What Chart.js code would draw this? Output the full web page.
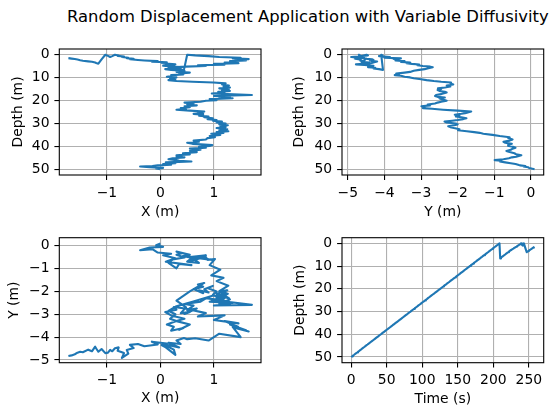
<!DOCTYPE html>
<html>
<head>
<meta charset="utf-8">
<script src="https://cdn.jsdelivr.net/npm/chart.js@4.4.1/dist/chart.umd.min.js"></script>
<style>
  body { margin: 0; background: #fff; }
  #wrap { position: relative; width: 552px; height: 414px; font-family: "DejaVu Sans", sans-serif; }
  #title { position: absolute; left: 67px; top: 7px; font-size: 16.4px; line-height: 19px; white-space: nowrap; color: #000; }
  .box { position: absolute; }
</style>
</head>
<body>
<div id="wrap">
  <div id="title">Random Displacement Application with Variable Diffusivity</div>
  <div class="box" style="left:0;top:30px"><canvas id="c1" width="276" height="192"></canvas></div>
  <div class="box" style="left:276px;top:30px"><canvas id="c2" width="276" height="192"></canvas></div>
  <div class="box" style="left:0;top:222px"><canvas id="c3" width="276" height="192"></canvas></div>
  <div class="box" style="left:276px;top:222px"><canvas id="c4" width="276" height="192"></canvas></div>
</div>
<script>
// particle track (time s, depth m, x m, y m)
const time = [0, 1.3, 2.5, 3.8, 5.0, 5.8, 7.1, 8.3, 9.6, 10.9, 12.5, 14.2, 15.4, 16.7, 18.4, 20.0, 21.7, 23.0, 24.2, 25.5,
  27.1, 29.2, 31.3, 33.4, 35.5, 37.6, 39.2, 40.9, 42.6, 44.2, 46.3, 48.4, 50.1, 52.2, 54.3, 56.8, 58.4, 60.5, 62.6, 64.7,
  66.4, 67.6, 69.3, 71.0, 73.0, 75.1, 76.8, 78.5, 80.1, 81.8, 83.5, 85.1, 86.8, 88.5, 89.7, 91.4, 93.1, 94.7, 96.0, 97.7,
  99.3, 101.0, 102.3, 103.9, 105.2, 106.9, 108.5, 110.2, 111.4, 113.1, 114.8, 116.5, 118.1, 119.8, 121.5, 123.1, 124.8, 126.1, 127.7, 129.4,
  130.6, 131.9, 133.6, 135.2, 136.9, 138.2, 139.8, 141.1, 142.8, 144.4, 146.1, 147.3, 149.0, 150.7, 152.8, 154.4, 156.5, 158.2, 159.4, 160.7,
  162.4, 164.1, 165.7, 167.4, 168.6, 170.3, 171.6, 172.8, 174.5, 176.2, 177.4, 179.5, 181.2, 182.4, 184.1, 185.7, 187.0, 188.3, 189.5, 190.8,
  192.0, 193.3, 194.5, 195.8, 197.0, 198.2, 199.5, 200.8, 202.0, 203.3, 204.5, 206.2, 207.4, 208.7,
  209.7, 210.8, 212.0, 213.2, 214.5, 215.7, 217.0, 218.2, 219.5, 220.7, 222.0, 223.2, 224.5, 225.7, 227.0, 228.2, 229.5, 230.7, 232.0, 233.2,
  234.5, 235.7, 237.0, 238.0, 239.0, 240.2, 241.4, 242.2, 243.0, 245.0, 247.0, 248.0, 249.0, 250.2, 251.5, 252.7, 254.0, 255.0, 256.0, 257.0, 258.0];
const depth = [50.0, 49.7, 49.4, 49.1, 48.8, 48.6, 48.3, 48.0, 47.7, 47.4, 47.0, 46.6, 46.3, 46.0, 45.6, 45.2, 44.8, 44.5, 44.2, 43.9,
  43.5, 43.0, 42.5, 42.0, 41.5, 41.0, 40.6, 40.2, 39.8, 39.4, 38.9, 38.4, 38.0, 37.5, 37.0, 36.4, 36.0, 35.5, 35.0, 34.5,
  34.1, 33.8, 33.4, 33.0, 32.5, 32.0, 31.6, 31.2, 30.8, 30.4, 30.0, 29.6, 29.2, 28.8, 28.5, 28.1, 27.7, 27.3, 27.0, 26.6,
  26.2, 25.8, 25.5, 25.1, 24.8, 24.4, 24.0, 23.6, 23.3, 22.9, 22.5, 22.1, 21.7, 21.3, 20.9, 20.5, 20.1, 19.8, 19.4, 19.0,
  18.7, 18.4, 18.0, 17.6, 17.2, 16.9, 16.5, 16.2, 15.8, 15.4, 15.0, 14.7, 14.3, 13.9, 13.4, 13.0, 12.5, 12.1, 11.8, 11.5,
  11.1, 10.7, 10.3, 9.9, 9.6, 9.2, 8.9, 8.6, 8.2, 7.8, 7.5, 7.0, 6.6, 6.3, 5.9, 5.5, 5.2, 4.9, 4.6, 4.3,
  4.0, 3.7, 3.4, 3.1, 2.8, 2.5, 2.2, 1.9, 1.6, 1.3, 1.0, 0.6, 0.3, 0.0,
  6.6, 6.3, 6.0, 5.7, 5.4, 5.1, 4.8, 4.5, 4.2, 3.9, 3.6, 3.3, 3.0, 2.8, 2.5, 2.3, 2.0, 1.8, 1.5, 1.3,
  1.0, 0.8, 0.5, 0.3, 0.0, 0.6, 1.0, 0.5, 0.0, 2.0, 3.9, 3.6, 3.4, 3.1, 2.9, 2.6, 2.4, 2.1, 1.9, 1.7, 1.5];
const xPos = [0.00, -0.08, 0.05, -0.20, -0.38, -0.15, -0.05, 0.20, 0.05, 0.28, 0.10, 0.58, 0.35, 0.30, 0.15, 0.23, 0.45, 0.30, 0.40, 0.30,
  0.55, 0.42, 0.68, 0.55, 0.75, 0.55, 0.85, 0.72, 0.92, 0.97, 0.60, 0.50, 0.72, 0.62, 0.85, 0.88, 1.02, 0.92, 1.12, 0.95,
  1.18, 1.05, 1.27, 1.10, 1.25, 1.05, 1.22, 1.12, 1.26, 1.10, 1.22, 1.05, 1.15, 0.98, 1.05, 0.88, 0.98, 0.82, 0.90, 0.72,
  0.80, 0.62, 0.80, 0.70, 0.82, 0.55, 0.30, 0.48, 0.38, 0.55, 0.45, 0.68, 0.50, 0.62, 0.45, 0.75, 0.85, 1.05, 0.92, 1.35,
  1.10, 1.30, 1.00, 1.71, 1.25, 0.96, 1.20, 1.08, 1.30, 1.15, 1.28, 1.10, 1.30, 1.18, 1.28, 1.15, 1.22, 0.99, 0.60, 0.30,
  0.15, 0.28, 0.18, 0.30, 0.12, 0.25, 0.20, 0.43, 0.35, 0.55, 0.30, 0.45, 0.20, 0.09, 0.30, 0.25, 0.46, 0.85, 0.70, 1.20,
  1.00, 1.46, 1.20, 1.45, 1.30, 1.60, 1.40, 1.65, 1.35, 1.50, 1.10, 0.90, 0.65, 0.50,
  0.44, 0.30, 0.38, 0.15, 0.35, 0.20, 0.05, 0.25, 0.28, 0.10, 0.02, 0.12, -0.16, -0.05, -0.30, -0.42, -0.57, -0.50, -0.63, -0.60,
  -0.72, -0.68, -0.80, -0.78, -0.85, -0.90, -0.94, -0.98, -1.03, -1.10, -1.16, -1.20, -1.22, -1.28, -1.35, -1.45, -1.50, -1.55, -1.60, -1.66, -1.72];
const yPos = [0.10, 0.02, -0.05, -0.08, -0.20, -0.15, -0.30, -0.35, -0.42, -0.55, -0.70, -0.85, -0.80, -0.99, -0.75, -0.60, -0.52, -0.40, -0.33, -0.26,
  -0.40, -0.45, -0.58, -0.67, -0.55, -0.50, -0.42, -0.49, -0.60, -0.62, -0.52, -0.70, -0.75, -0.58, -0.50, -0.62, -0.58, -0.85, -1.05, -1.30,
  -1.40, -1.55, -1.75, -1.99, -1.95, -2.10, -2.20, -2.26, -2.10, -2.00, -2.05, -2.30, -2.36, -2.15, -2.00, -1.85, -1.76, -1.90, -2.05, -1.95,
  -2.08, -1.90, -1.80, -1.70, -1.63, -2.00, -2.40, -2.70, -2.95, -2.90, -2.99, -2.75, -2.82, -2.62, -2.55, -2.45, -2.30, -2.36, -2.45, -2.50,
  -2.35, -2.55, -2.62, -2.59, -2.45, -2.40, -2.30, -2.35, -2.50, -2.55, -2.45, -2.54, -2.35, -2.20, -2.30, -2.12, -2.20, -2.18, -2.45, -2.65,
  -2.85, -3.00, -3.20, -3.30, -3.45, -3.55, -3.72, -3.60, -3.68, -3.45, -3.30, -3.20, -3.05, -2.90, -2.80, -2.68, -2.75, -2.95, -3.10, -3.05,
  -3.25, -3.40, -3.30, -3.55, -3.45, -3.70, -3.60, -3.75, -3.55, -4.00, -3.85, -4.15, -4.05, -4.09,
  -4.04, -4.15, -4.30, -4.25, -4.45, -4.38, -4.30, -4.55, -4.78, -4.45, -4.35, -4.28, -4.20, -4.32, -4.40, -4.30, -4.34, -4.48, -4.56, -4.72,
  -4.91, -4.70, -4.60, -4.45, -4.49, -4.62, -4.56, -4.68, -4.70, -4.52, -4.64, -4.50, -4.42, -4.62, -4.55, -4.66, -4.64, -4.68, -4.75, -4.80, -4.83];

const xTicks = [-1, 0, 1];
const yTicks = [-5, -4, -3, -2, -1, 0];
const depthTicks = [0, 10, 20, 30, 40, 50];
const timeTicks = [0, 50, 100, 150, 200, 250];

const FONT = { family: 'DejaVu Sans', size: 13.9 };
const BLUE = '#1f77b4';

const frame = {
  id: 'frame',
  afterDraw(chart) {
    const a = chart.chartArea, ctx = chart.ctx;
    ctx.save();
    ctx.strokeStyle = '#000';
    ctx.lineWidth = 1.1;
    ctx.strokeRect(a.left, a.top, a.right - a.left, a.bottom - a.top);
    ctx.restore();
  }
};

function axis(o) {
  // o: pos, min, max, ticks, title, size, tpad, reverse
  return {
    type: 'linear',
    position: o.pos,
    min: o.min,
    max: o.max,
    reverse: !!o.reverse,
    afterBuildTicks: s => { s.ticks = o.ticks.map(v => ({ value: v })); },
    afterFit: s => { if (o.pos === 'left') s.width = o.size; else s.height = o.size; },
    grid: { color: '#b0b0b0', lineWidth: 1.1, tickColor: '#000', tickLength: 4.9, tickWidth: 1.1 },
    border: { display: false },
    ticks: {
      color: '#000', font: FONT, padding: 4.9, maxRotation: 0,
      callback: v => String(v).replace('-', '\u2212')
    },
    title: { display: true, text: o.title, color: '#000', font: FONT, padding: o.tpad }
  };
}

function makeChart(id, pts, xs, ys, pad) {
  return new Chart(document.getElementById(id), {
    type: 'scatter',
    data: { datasets: [{ data: pts, showLine: true, borderColor: BLUE, borderWidth: 2.1, pointRadius: 0, borderJoinStyle: 'round' }] },
    options: {
      responsive: false,
      animation: false,
      events: [],
      layout: { padding: pad },
      plugins: { legend: { display: false }, tooltip: { enabled: false } },
      scales: { x: xs, y: ys }
    },
    plugins: [frame]
  });
}

const xzPts = time.map((t, i) => ({ x: xPos[i], y: depth[i] }));
const yzPts = time.map((t, i) => ({ x: yPos[i], y: depth[i] }));
const xyPts = time.map((t, i) => ({ x: xPos[i], y: yPos[i] }));
const tzPts = time.map((t, i) => ({ x: t, y: depth[i] }));

makeChart('c1', xzPts,
  axis({ pos: 'bottom', min: -1.89, max: 1.88, ticks: xTicks, title: 'X (m)', size: 47, tpad: { top: 0, bottom: 1.7 } }),
  axis({ pos: 'left', min: -2.5, max: 52.5, reverse: true, ticks: depthTicks, title: 'Depth (m)', size: 59.3, tpad: { top: 10, bottom: 0 } }),
  { top: 19, right: 15, left: 0, bottom: 0 });

makeChart('c2', yzPts,
  axis({ pos: 'bottom', min: -5.16, max: 0.35, ticks: yTicks, title: 'Y (m)', size: 47, tpad: { top: 0, bottom: 1.4 } }),
  axis({ pos: 'left', min: -2.5, max: 52.5, reverse: true, ticks: depthTicks, title: 'Depth (m)', size: 66, tpad: { top: 15, bottom: 0 } }),
  { top: 19, right: 8.3, left: 0, bottom: 0 });

makeChart('c3', xyPts,
  axis({ pos: 'bottom', min: -1.89, max: 1.88, ticks: xTicks, title: 'X (m)', size: 51.3, tpad: { top: 0, bottom: 7.4 } }),
  axis({ pos: 'left', min: -5.12, max: 0.35, ticks: yTicks, title: 'Y (m)', size: 59.3, tpad: { top: 5.7, bottom: 0 } }),
  { top: 15.7, right: 15, left: 0, bottom: 0 });

makeChart('c4', tzPts,
  axis({ pos: 'bottom', min: -12.9, max: 270.9, ticks: timeTicks, title: 'Time (s)', size: 51.3, tpad: { top: 0, bottom: 6.7 } }),
  axis({ pos: 'left', min: -2.5, max: 52.5, reverse: true, ticks: depthTicks, title: 'Depth (m)', size: 66, tpad: { top: 15.7, bottom: 0 } }),
  { top: 15.7, right: 8.3, left: 0, bottom: 0 });
</script>
</body>
</html>
